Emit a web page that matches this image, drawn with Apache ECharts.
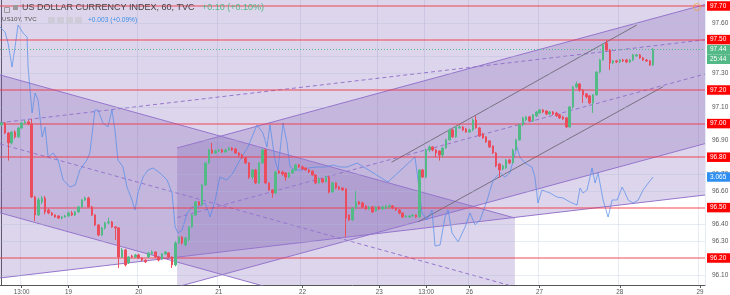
<!DOCTYPE html>
<html><head><meta charset="utf-8">
<script src="https://cdn.jsdelivr.net/npm/echarts@6/dist/echarts.min.js"></script>
<style>html,body{margin:0;padding:0;background:#fff}#c{width:730px;height:295px}</style>
</head><body><div id="c"></div>
<script>
// ---- data ----
const NUM_SLOTS = 211; // hourly slots on the time axis (incl. empty space on the right)
const tickLabels = [[6,'13:00'],[20,'19'],[41,'20'],[65,'21'],[90,'22'],[113,'23'],[127,'13:00'],[140,'26'],[161,'27'],[185,'28'],[209,'29']];
// [open, close, low, high]
const candles = [
[96.992,97.004,96.985,97.010],[97.004,96.944,96.938,97.010],[96.944,96.885,96.780,96.950],[96.885,96.950,96.875,96.956],
[96.950,96.921,96.910,96.960],[96.921,96.974,96.915,96.980],[96.974,97.004,96.968,97.010],[97.004,97.010,96.998,97.022],
[97.010,96.998,96.990,97.020],[96.998,96.563,96.557,97.028],[96.563,96.456,96.420,96.570],[96.456,96.546,96.450,96.560],
[96.534,96.557,96.520,96.570],[96.557,96.474,96.460,96.570],[96.486,96.468,96.460,96.495],[96.468,96.456,96.450,96.475],
[96.456,96.444,96.440,96.460],[96.450,96.438,96.432,96.455],[96.438,96.444,96.430,96.450],[96.444,96.450,96.440,96.458],
[96.450,96.468,96.445,96.475],[96.468,96.456,96.450,96.480],[96.456,96.474,96.450,96.480],[96.474,96.504,96.470,96.510],
[96.504,96.546,96.500,96.550],[96.546,96.557,96.540,96.565],[96.557,96.504,96.500,96.565],[96.504,96.456,96.450,96.510],
[96.456,96.397,96.390,96.460],[96.397,96.337,96.330,96.400],[96.337,96.379,96.330,96.385],[96.379,96.409,96.370,96.415],
[96.409,96.415,96.400,96.440],[96.415,96.385,96.380,96.420],[96.385,96.379,96.308,96.390],[96.379,96.206,96.141,96.385],
[96.206,96.248,96.200,96.260],[96.248,96.159,96.150,96.255],[96.171,96.206,96.165,96.210],[96.212,96.206,96.200,96.220],
[96.206,96.218,96.200,96.225],[96.218,96.200,96.195,96.225],[96.200,96.188,96.180,96.205],[96.188,96.177,96.170,96.190],
[96.206,96.230,96.200,96.235],[96.224,96.236,96.220,96.245],[96.236,96.206,96.200,96.240],[96.206,96.188,96.180,96.210],
[96.194,96.224,96.190,96.230],[96.224,96.236,96.220,96.240],[96.230,96.206,96.200,96.235],[96.206,96.159,96.141,96.210],
[96.159,96.290,96.150,96.300],[96.290,96.325,96.285,96.330],[96.325,96.290,96.280,96.330],[96.278,96.319,96.270,96.325],
[96.308,96.385,96.300,96.390],[96.385,96.456,96.380,96.460],[96.456,96.534,96.450,96.540],[96.534,96.516,96.510,96.540],
[96.516,96.635,96.510,96.640],[96.635,96.766,96.630,96.770],[96.766,96.843,96.760,96.850],[96.843,96.825,96.820,96.885],
[96.825,96.837,96.820,96.845],[96.837,96.843,96.830,96.850],[96.843,96.831,96.825,96.850],[96.831,96.843,96.825,96.850],
[96.843,96.855,96.840,96.860],[96.855,96.843,96.837,96.860],[96.849,96.825,96.820,96.855],[96.825,96.813,96.800,96.830],
[96.813,96.796,96.790,96.820],[96.796,96.766,96.760,96.800],[96.766,96.682,96.670,96.770],[96.682,96.724,96.670,96.730],
[96.724,96.647,96.640,96.730],[96.647,96.766,96.640,96.770],[96.766,96.843,96.760,96.850],[96.843,96.647,96.640,96.850],
[96.647,96.605,96.600,96.650],[96.605,96.587,96.560,96.610],[96.587,96.712,96.580,96.720],[96.718,96.706,96.700,96.725],
[96.712,96.700,96.690,96.720],[96.706,96.682,96.660,96.710],[96.682,96.706,96.675,96.710],[96.706,96.724,96.700,96.730],
[96.724,96.754,96.720,96.760],[96.754,96.742,96.735,96.760],[96.742,96.730,96.725,96.750],[96.736,96.724,96.720,96.740],
[96.724,96.712,96.705,96.730],[96.718,96.694,96.690,96.720],[96.694,96.647,96.640,96.700],[96.647,96.671,96.640,96.680],
[96.671,96.653,96.645,96.675],[96.653,96.682,96.650,96.690],[96.682,96.593,96.585,96.690],[96.593,96.647,96.590,96.650],
[96.647,96.617,96.610,96.650],[96.623,96.611,96.605,96.630],[96.617,96.605,96.600,96.620],[96.611,96.438,96.325,96.615],
[96.456,96.427,96.420,96.460],[96.427,96.498,96.420,96.500],[96.498,96.534,96.490,96.600],[96.534,96.522,96.515,96.540],
[96.528,96.504,96.500,96.535],[96.510,96.492,96.485,96.515],[96.492,96.504,96.485,96.510],[96.504,96.474,96.470,96.510],
[96.480,96.504,96.475,96.510],[96.504,96.492,96.485,96.510],[96.492,96.504,96.485,96.510],[96.498,96.510,96.490,96.515],
[96.504,96.510,96.500,96.520],[96.510,96.498,96.490,96.515],[96.498,96.486,96.480,96.500],[96.486,96.468,96.460,96.490],
[96.468,96.444,96.440,96.470],[96.444,96.450,96.438,96.455],[96.444,96.450,96.438,96.455],[96.450,96.456,96.445,96.460],
[96.456,96.444,96.440,96.460],[96.444,96.724,96.440,96.730],[96.724,96.682,96.675,96.730],[96.682,96.843,96.675,96.850],
[96.843,96.861,96.830,96.870],[96.861,96.843,96.835,96.865],[96.843,96.825,96.800,96.850],[96.837,96.813,96.780,96.840],
[96.813,96.855,96.800,96.860],[96.855,96.903,96.850,96.910],[96.903,96.962,96.900,96.970],[96.962,96.921,96.915,96.970],
[96.921,96.980,96.915,96.985],[96.974,96.980,96.970,96.990],[96.980,96.962,96.955,96.985],[96.968,96.950,96.945,96.975],
[96.950,96.962,96.945,96.970],[96.962,97.022,96.955,97.030],[97.022,96.974,96.970,97.046],[96.974,96.927,96.920,96.980],
[96.938,96.915,96.910,96.945],[96.921,96.891,96.885,96.925],[96.897,96.861,96.855,96.900],[96.867,96.825,96.820,96.870],
[96.825,96.748,96.740,96.830],[96.760,96.724,96.677,96.765],[96.730,96.748,96.720,96.755],[96.736,96.784,96.730,96.790],
[96.784,96.766,96.760,96.790],[96.766,96.843,96.760,96.850],[96.843,96.903,96.840,96.910],[96.903,96.992,96.900,97.000],
[96.992,97.034,96.985,97.040],[97.022,97.040,97.015,97.046],[97.040,97.016,97.010,97.046],[97.016,97.052,97.010,97.057],
[97.046,97.069,97.040,97.075],[97.063,97.081,97.057,97.087],[97.081,97.069,97.063,97.087],[97.075,97.057,97.050,97.080],
[97.057,97.069,97.050,97.075],[97.069,97.057,97.050,97.075],[97.063,97.046,97.040,97.070],[97.052,97.034,97.028,97.057],
[97.040,97.028,97.022,97.046],[97.034,96.980,96.975,97.040],[96.980,97.099,96.975,97.105],[97.099,97.218,97.090,97.225],
[97.218,97.236,97.210,97.250],[97.236,97.200,97.190,97.240],[97.200,97.171,97.123,97.205],[97.177,97.159,97.150,97.180],
[97.165,97.123,97.115,97.170],[97.123,97.171,97.063,97.175],[97.171,97.307,97.165,97.310],[97.307,97.379,97.300,97.385],
[97.379,97.468,97.375,97.475],[97.480,97.438,97.430,97.498],[97.438,97.361,97.320,97.445],[97.361,97.373,97.355,97.380],
[97.373,97.367,97.360,97.380],[97.367,97.379,97.360,97.385],[97.379,97.373,97.367,97.385],[97.379,97.367,97.360,97.385],
[97.367,97.379,97.360,97.385],[97.379,97.409,97.373,97.415],[97.403,97.409,97.397,97.415],[97.409,97.391,97.385,97.415],
[97.391,97.379,97.373,97.397],[97.379,97.373,97.367,97.385],[97.373,97.349,97.343,97.379],[97.349,97.440,97.343,97.450]
];
// US10Y overlay: [slot position, yield]
const us10y = [
[-0.5,3.215],[1.0,3.210],[1.9,3.199],[3.1,3.175],[4.0,3.195],[4.9,3.217],[6.4,3.209],[7.6,3.205],[7.9,3.175],[9.1,3.129],
[10.0,3.149],[10.9,3.142],[12.1,3.105],[13.0,3.115],[13.9,3.085],[15.4,3.089],[16.9,3.082],[18.4,3.062],[20.5,3.055],[22.0,3.057],
[23.4,3.072],[25.5,3.082],[26.4,3.089],[27.9,3.132],[28.8,3.132],[30.3,3.119],[31.8,3.115],[33.0,3.132],[33.9,3.112],[34.8,3.082],
[36.3,3.075],[37.5,3.055],[39.0,3.042],[39.9,3.032],[40.8,3.049],[42.3,3.065],[43.8,3.072],[45.3,3.074],[47.4,3.069],[49.5,3.062],
[51.0,3.049],[51.9,3.015],[52.8,3.009],[54.0,3.012],[55.5,3.029],[57.0,3.035],[58.8,3.035],[60.9,3.039],[62.4,3.025],[63.9,3.042],
[65.3,3.065],[67.4,3.062],[69.2,3.069],[71.3,3.082],[73.7,3.095],[76.4,3.117],[78.2,3.109],[79.4,3.095],[80.3,3.117],[81.8,3.082],
[82.7,3.072],[84.2,3.119],[85.4,3.099],[86.3,3.075],[87.8,3.072],[89.9,3.072],[91.7,3.074],[94.4,3.075],[96.8,3.075],[99.2,3.077],
[101.3,3.075],[103.4,3.075],[106.4,3.079],[115.6,3.060],[123.7,3.085],[124.6,3.062],[125.8,3.029],[127.3,3.022],[128.8,3.032],[129.7,2.996],
[131.2,2.997],[132.7,3.025],[133.6,3.032],[134.8,3.009],[136.6,3.000],[138.7,3.015],[140.2,3.029],[141.7,3.017],[143.2,3.022],[145.3,3.042],
[147.1,3.062],[149.2,3.069],[150.6,3.065],[152.1,3.069],[154.2,3.095],[155.1,3.085],[156.6,3.079],[158.7,3.075],[159.6,3.065],[160.5,3.039],
[161.7,3.052],[164.1,3.049],[166.2,3.045],[168.0,3.044],[170.1,3.040],[172.2,3.037],[173.1,3.054],[174.0,3.049],[175.2,3.052],[176.7,3.074],
[177.6,3.059],[178.5,3.069],[180.0,3.042],[181.5,3.025],[182.7,3.042],[184.2,3.042],[185.7,3.055],[186.6,3.049],[187.5,3.042],[189.0,3.039],
[190.5,3.042],[192.0,3.052],[193.5,3.059],[195.0,3.065]
];
const levels = [97.70, 97.50, 97.20, 97.00, 96.80, 96.50, 96.20];
const priceTicks = [97.60, 97.40, 97.30, 97.10, 96.90, 96.70, 96.60, 96.40, 96.30, 96.10];
const lastPrice = 97.44;
const countdownText = '25:44';
const countdownLevel = 97.383;
const us10yLast = 3.065;
// drawings: [slot, price] anchor points
const chanA_upper = [[-0.5, 97.290], [153.6, 96.438]];
const chanA_mid   = [[-0.5, 96.879], [153.6, 96.028]];
const chanA_lower = [[-0.5, 96.469], [153.6, 95.617]];
const chanB_upper = [[-0.5, 97.929], [210.5, 98.423]];
const chanB_mid   = [[-0.5, 97.005], [210.5, 97.499]];
const chanB_lower = [[-0.5, 96.081], [210.5, 96.575]];
const chanD_upper = [[52.5, 96.855], [210.5, 97.709]];
const chanD_mid   = [[52.5, 96.441], [210.5, 97.295]];
const chanD_lower = [[52.5, 96.028], [210.5, 96.881]];
const trendC1 = [[116.7, 96.770], [190.1, 97.587]];
const trendC2 = [[124.7, 96.416], [198.0, 97.220]];
const handlePoint = [[208.1, 97.694]];

// ---- chart ----
const FONT = 'Liberation Sans, Arial, sans-serif';
const UP = '#53b987', DOWN = '#eb4d5c';
const FILL = 'rgba(128,100,180,0.27)';
const PURPLE = '#9575cd';
const CLEAR = 'rgba(0,0,0,0)';
const slots = Array.from({length: NUM_SLOTS}, (_, i) => i);
const labelMap = new Map(tickLabels);
const showTick = (i) => labelMap.has(i);

const fills = [
  [chanB_upper[0], chanB_upper[1], chanB_lower[1], chanB_lower[0]],
  [chanA_upper[0], chanA_upper[1], chanA_lower[1], chanA_lower[0]],
  [chanD_upper[0], chanD_upper[1], chanD_lower[1], chanD_lower[0]]
];

function lineSeries(pts, color, type, width) {
  return {type: 'line', xAxisIndex: 1, yAxisIndex: 0, data: pts, showSymbol: false, silent: true,
    clip: true, z: 2, lineStyle: {color: color, width: width || 1, type: type || 'solid'}};
}
function markSeries(z, yIdx, ml) {
  return {type: 'line', xAxisIndex: 1, yAxisIndex: yIdx, data: [[-50, yIdx ? 3.0 : 96.5]], showSymbol: false,
    silent: true, z: z, lineStyle: {color: CLEAR},
    markLine: Object.assign({symbol: ['none', 'none'], silent: true, animation: false, precision: 4}, ml)};
}
const boxLabel = (bg) => ({position: 'end', distance: 2, color: '#fff', backgroundColor: bg, padding: [1.5, 4, 1, 3], fontSize: 6.5, fontFamily: FONT});

const chart = echarts.init(document.getElementById('c'), null, {renderer: 'canvas'});
chart.setOption({
  animation: false,
  backgroundColor: '#ffffff',
  grid: {left: 0, right: 25, top: 0, bottom: 10},
  xAxis: [
    {type: 'category', data: slots, boundaryGap: true,
     axisLine: {lineStyle: {color: '#555', width: 1}},
     axisTick: {show: true, alignWithLabel: true, interval: showTick, length: 3, lineStyle: {color: '#555'}},
     axisLabel: {interval: showTick, formatter: (v, i) => labelMap.get(Number(v)) || '', fontSize: 6.3, color: '#555', margin: 4, fontFamily: FONT},
     splitLine: {show: true, interval: showTick, lineStyle: {color: 'rgba(175,190,215,0.3)', width: 1}}},
    {type: 'value', min: -0.5, max: NUM_SLOTS - 0.5, show: false}
  ],
  yAxis: [
    {type: 'value', position: 'right', min: 96.0393, max: 97.7357, scale: true,
     axisLine: {show: true, lineStyle: {color: '#555'}}, axisTick: {show: false}, axisLabel: {show: false}, splitLine: {show: false}},
    {type: 'value', min: 2.957, max: 3.242, show: false, scale: true}
  ],
  graphic: [
    {type: 'rect', left: 2, top: 5, z: 100, shape: {width: 5, height: 5}, style: {fill: 'none', stroke: '#888', lineWidth: 0.8}},
    {type: 'rect', left: 13, top: 5, z: 100, shape: {width: 5, height: 5}, style: {fill: '#9a9a9a'}},
    {type: 'text', left: 22, top: 3.5, z: 100, style: {text: 'US DOLLAR CURRENCY INDEX, 60, TVC', fontSize: 9, fill: '#444', fontFamily: FONT}},
    {type: 'text', left: 202, top: 3.5, z: 100, style: {text: '+0.10 (+0.10%)', fontSize: 9, fill: UP, fontFamily: FONT}},
    {type: 'text', left: 2, top: 16.5, z: 100, style: {text: 'US10Y, TVC', fontSize: 6.2, fill: '#555', fontFamily: FONT}},
    {type: 'rect', left: 48, top: 17, z: 100, shape: {width: 7, height: 6.5, r: 1}, style: {fill: '#cfcbd8'}},
    {type: 'rect', left: 57, top: 17, z: 100, shape: {width: 7, height: 6.5, r: 1}, style: {fill: '#cfcbd8'}},
    {type: 'rect', left: 66, top: 17, z: 100, shape: {width: 7, height: 6.5, r: 1}, style: {fill: '#cfcbd8'}},
    {type: 'rect', left: 75, top: 17, z: 100, shape: {width: 7, height: 6.5, r: 1}, style: {fill: '#cfcbd8'}},
    {type: 'text', left: 88, top: 16.5, z: 100, style: {text: '+0.003 (+0.09%)', fontSize: 6.6, fill: '#3b8fe8', fontFamily: FONT}}
  ],
  series: [
    {type: 'custom', xAxisIndex: 1, yAxisIndex: 0, silent: true, z: 1, clip: true,
     data: fills.map((f, i) => [f[0][0], f[0][1], i]),
     renderItem: (params, api) => {
       const cs = params.coordSys;
       const pts = fills[params.dataIndex].map(p => api.coord(p));
       return {type: 'group', clipPath: {type: 'rect', shape: {x: cs.x, y: cs.y, width: cs.width, height: cs.height}},
               children: [{type: 'polygon', shape: {points: pts}, style: {fill: FILL}}]};
     }},
    lineSeries(chanA_upper, PURPLE), lineSeries(chanA_lower, PURPLE), lineSeries(chanA_mid, PURPLE, [4, 3]),
    lineSeries(chanB_upper, PURPLE), lineSeries(chanB_lower, PURPLE), lineSeries(chanB_mid, PURPLE, [4, 3]),
    lineSeries(chanD_upper, PURPLE), lineSeries(chanD_lower, PURPLE), lineSeries(chanD_mid, PURPLE, [4, 3]),
    lineSeries(trendC1, '#6d6a75', 'solid', 0.9), lineSeries(trendC2, '#6d6a75', 'solid', 0.9),
    markSeries(2, 0, {
      lineStyle: {color: 'rgba(175,190,215,0.3)', width: 1, type: 'solid'},
      label: {position: 'end', distance: 7, color: '#555', fontSize: 6.5, fontFamily: FONT, formatter: p => Number(p.value).toFixed(2)},
      data: priceTicks.map(v => ({yAxis: v}))
    }),
    markSeries(3, 0, {
      lineStyle: {color: 'rgba(242,54,69,0.45)', width: 2, type: 'solid'},
      label: Object.assign(boxLabel('#ff0000'), {formatter: p => Number(p.value).toFixed(2)}),
      data: levels.map(v => ({yAxis: v}))
    }),
    {type: 'line', xAxisIndex: 1, yAxisIndex: 1, data: us10y, showSymbol: false, silent: true, z: 4,
     lineStyle: {color: 'rgba(80,140,235,0.7)', width: 1}},
    markSeries(8, 1, {
      lineStyle: {color: CLEAR, width: 1},
      label: Object.assign(boxLabel('#2f8ff0'), {formatter: us10yLast.toFixed(3)}),
      data: [{yAxis: us10yLast}]
    }),
    {type: 'candlestick', xAxisIndex: 0, yAxisIndex: 0, data: candles, barWidth: 2, z: 5, silent: true,
     itemStyle: {color: UP, color0: DOWN, borderColor: UP, borderColor0: DOWN, borderWidth: 1}},
    markSeries(6, 0, {
      lineStyle: {color: UP, width: 1, type: [1, 2]},
      label: Object.assign(boxLabel(UP), {formatter: lastPrice.toFixed(2)}),
      data: [{yAxis: lastPrice}]
    }),
    markSeries(7, 0, {
      lineStyle: {color: CLEAR, width: 1},
      label: Object.assign(boxLabel(UP), {formatter: countdownText}),
      data: [{yAxis: countdownLevel}]
    }),
    {type: 'scatter', xAxisIndex: 1, yAxisIndex: 0, data: handlePoint, symbol: 'circle', symbolSize: 7, z: 7, silent: true,
     itemStyle: {color: 'rgba(255,255,255,0)', borderColor: '#f5a04a', borderWidth: 1}}
  ]
});
</script></body></html>
